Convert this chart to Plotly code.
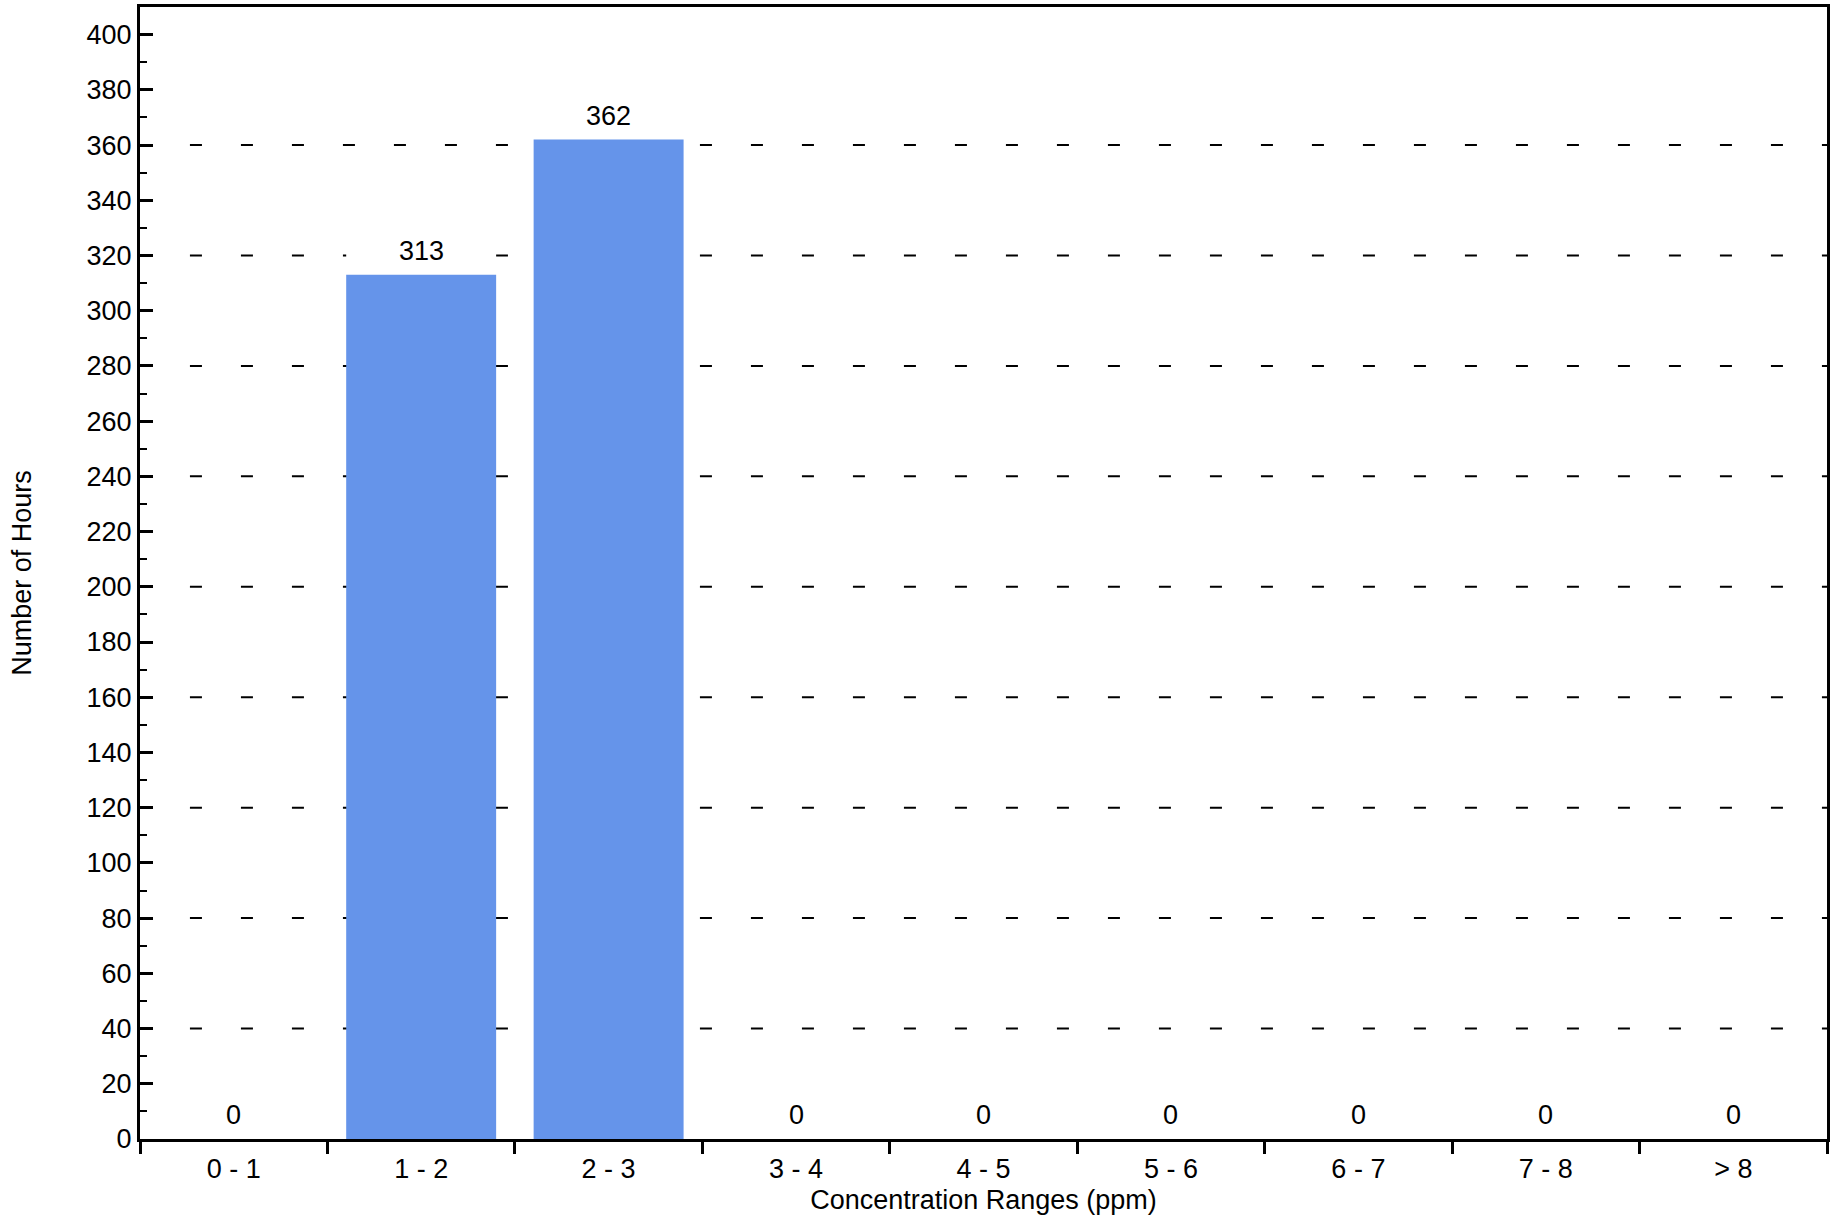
import plotly.graph_objects as go

categories = ["0 - 1", "1 - 2", "2 - 3", "3 - 4", "4 - 5", "5 - 6", "6 - 7", "7 - 8", "> 8"]
hours = [0, 313, 362, 0, 0, 0, 0, 0, 0]
y_tick_values = list(range(0, 401, 20))
grid_values = list(range(40, 361, 40))

FONT = "Liberation Sans"
FS = 27
LABEL_BOX = 14  # height (in data units) of the white box behind each value label

fig = go.Figure()
fig.add_trace(go.Bar(
    x=categories, y=hours,
    marker=dict(color="#6594EA", line=dict(width=0)),
))

for g in grid_values:
    fig.add_shape(type="line", xref="paper", x0=0.0296, x1=1, yref="y", y0=g, y1=g,
                  line=dict(color="black", width=2, dash="12px,39px"), layer="below")

for i, (c, v) in enumerate(zip(categories, hours)):
    fig.add_shape(type="rect", xref="x", yref="y", x0=i - 0.4, x1=i + 0.4,
                  y0=v, y1=v + LABEL_BOX, fillcolor="white", line=dict(width=0), layer="below")
    fig.add_annotation(x=c, y=v, text=str(v), showarrow=False, yanchor="middle", yshift=24,
                       font=dict(family=FONT, size=FS, color="black"))

fig.update_layout(
    width=1830, height=1218,
    margin=dict(l=140, r=3, t=7, b=79),
    plot_bgcolor="white", paper_bgcolor="white",
    bargap=0.2, showlegend=False, hovermode=False,
    font=dict(family=FONT, size=FS, color="black"),
)
fig.update_xaxes(
    type="category", tickson="boundaries", ticks="outside", ticklen=12, tickwidth=3,
    tickcolor="black", showline=True, linewidth=3, linecolor="black", mirror=True,
    showgrid=False, automargin=False, ticklabelstandoff=4,
    title=dict(text="Concentration Ranges (ppm)", font=dict(size=FS), standoff=7),
    tickfont=dict(size=FS),
)
fig.update_yaxes(
    range=[0, 410], tickvals=y_tick_values, ticks="inside", ticklen=13, tickwidth=3,
    tickcolor="black", showline=True, linewidth=3, linecolor="black", mirror=True,
    showgrid=False, zeroline=False, automargin=False,
    minor=dict(ticks="inside", ticklen=7, tickwidth=2, dtick=10, tickcolor="black", showgrid=False),
    title=dict(text="Number of Hours", font=dict(size=FS), standoff=48),
    tickfont=dict(size=FS),
)

fig.write_html("out.html", config={"displayModeBar": False},
               post_script="document.body.style.margin='0';document.body.style.overflow='hidden';")
